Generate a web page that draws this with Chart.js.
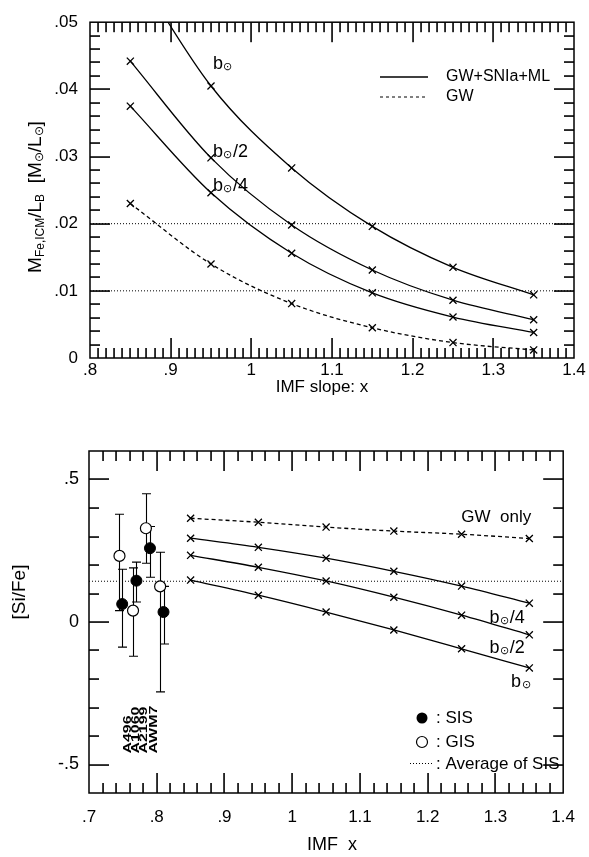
<!DOCTYPE html>
<html>
<head>
<meta charset="utf-8">
<script src="https://cdn.jsdelivr.net/npm/chart.js@4.4.1/dist/chart.umd.min.js"></script>
<style>
  html, body { margin: 0; padding: 0; background: #fff; }
  #wrap { position: relative; width: 589px; height: 857px; overflow: hidden; }
  canvas { position: absolute; left: 0; }
  #c1 { top: 0; }
  #c2 { top: 400px; }
</style>
</head>
<body>
<div id="wrap">
  <canvas id="c1" width="589" height="400"></canvas>
  <canvas id="c2" width="589" height="457"></canvas>
</div>
<script>
// ---------------- DATA ----------------
const imfX = [0.85, 0.95, 1.05, 1.15, 1.25, 1.35];
const feB1 = [0.059, 0.0405, 0.0283, 0.0196, 0.0135, 0.0094];
const feB2 = [0.0442, 0.0298, 0.0198, 0.0131, 0.0086, 0.0057];
const feB4 = [0.0375, 0.0246, 0.0156, 0.0097, 0.0061, 0.0038];
const feGW = [0.0230, 0.0140, 0.0081, 0.0045, 0.0023, 0.0012];
const feRefLines = [0.02, 0.01];
const topXTicks = [0.8, 0.9, 1.0, 1.1, 1.2, 1.3, 1.4];
const topYTicks = [0, 0.01, 0.02, 0.03, 0.04, 0.05];

const siGW = [0.364, 0.350, 0.333, 0.319, 0.308, 0.293];
const siB4 = [0.294, 0.262, 0.224, 0.178, 0.126, 0.066];
const siB2 = [0.234, 0.192, 0.144, 0.087, 0.024, -0.045];
const siB1 = [0.147, 0.094, 0.035, -0.028, -0.094, -0.161];
const clusters = ['A496', 'A1060', 'A2199', 'AWM7'];
const sisX  = [0.749, 0.770, 0.790, 0.810];
const sisY  = [0.063, 0.145, 0.259, 0.035];
const sisLo = [-0.088, 0.070, 0.157, -0.077];
const sisHi = [0.185, 0.210, 0.335, 0.125];
const gisX  = [0.745, 0.765, 0.784, 0.805];
const gisY  = [0.232, 0.040, 0.329, 0.125];
const gisLo = [0.040, -0.120, 0.206, -0.245];
const gisHi = [0.378, 0.190, 0.450, 0.245];
const sisAverage = 0.143;
const botXTicks = [0.7, 0.8, 0.9, 1.0, 1.1, 1.2, 1.3, 1.4];
const botYTicks = [-0.5, 0, 0.5];

// ---------------- HELPERS ----------------
const FONT = "'Liberation Sans', Arial, Helvetica, sans-serif";
Chart.defaults.font.family = FONT;
Chart.defaults.color = '#000';

function fmt(v) {
  const r = Number(v.toFixed(3));
  if (r === 0) return '0';
  return String(r).replace(/^0\./, '.').replace(/^-0\./, '-.');
}
const pts = (xs, ys) => xs.map((x, i) => ({ x: x, y: ys[i] }));

function curve(data, dashed) {
  return {
    data: data, showLine: true, borderColor: '#000', borderWidth: 1.3,
    borderDash: dashed ? [4, 3] : [], pointStyle: 'crossRot', pointRadius: 5,
    pointBorderWidth: 1.3, pointBorderColor: '#000', pointBackgroundColor: '#000',
    cubicInterpolationMode: 'monotone', fill: false
  };
}
function refLine(x0, x1, y) {
  return {
    data: [{ x: x0, y: y }, { x: x1, y: y }], showLine: true, borderColor: '#000',
    borderWidth: 1, borderDash: [1, 2], pointRadius: 0, fill: false
  };
}

function drawRich(ctx, parts, cx, cy, rot) {
  ctx.save();
  ctx.translate(cx, cy);
  if (rot) ctx.rotate(rot);
  let w = 0;
  parts.forEach(p => { ctx.font = (p.bold ? 'bold ' : '') + p.size + 'px ' + FONT; w += ctx.measureText(p.t).width; });
  let x = -w / 2;
  ctx.textBaseline = 'middle';
  ctx.textAlign = 'left';
  ctx.fillStyle = '#000';
  parts.forEach(p => {
    ctx.font = (p.bold ? 'bold ' : '') + p.size + 'px ' + FONT;
    ctx.fillText(p.t, x, p.dy || 0);
    x += ctx.measureText(p.t).width;
  });
  ctx.restore();
}
function bsun(ctx, suffix, x, y, size) {
  ctx.save();
  ctx.textBaseline = 'alphabetic';
  ctx.textAlign = 'left';
  ctx.fillStyle = '#000';
  ctx.font = size + 'px ' + FONT;
  ctx.fillText('b', x, y);
  let w = ctx.measureText('b').width;
  ctx.font = Math.round(size * 0.62) + 'px ' + FONT;
  ctx.fillText('⊙', x + w + 0.5, y + 1);
  w += ctx.measureText('⊙').width + 1;
  if (suffix) {
    ctx.font = size + 'px ' + FONT;
    ctx.fillText(suffix, x + w, y);
  }
  ctx.restore();
}

// Frame and inward tick marks, placed through the chart's scales
function frameTicks(chart, cfg) {
  const ctx = chart.ctx;
  const a = chart.chartArea;
  const xs = chart.scales.x, ys = chart.scales.y;
  ctx.save();
  ctx.setLineDash([]);
  ctx.globalCompositeOperation = 'source-over';
  ctx.fillStyle = '#000000';
  ctx.strokeStyle = '#000000';
  ctx.lineWidth = 1.5;
  ctx.strokeRect(a.left, a.top, a.right - a.left, a.bottom - a.top);
  const nx = Math.round((cfg.xMax - cfg.xMin) / cfg.xMinor);
  for (let i = 1; i < nx; i++) {
    const v = cfg.xMin + i * cfg.xMinor;
    const L = (i % cfg.xEvery) === 0 ? 20 : 10;
    const px = Math.round(xs.getPixelForValue(v));
    ctx.fillRect(px - 0.75, a.bottom - L, 1.6, L);
    ctx.fillRect(px - 0.75, a.top, 1.6, L);
  }
  const ny = Math.round((cfg.yMax - cfg.yMin) / cfg.yMinor);
  for (let i = 1; i < ny; i++) {
    const v = cfg.yMin + i * cfg.yMinor;
    const L = (i % cfg.yEvery) === cfg.yOff ? 20 : 10;
    const py = Math.round(ys.getPixelForValue(v));
    ctx.fillRect(a.left, py - 0.75, L, 1.6);
    ctx.fillRect(a.right - L, py - 0.75, L, 1.6);
  }
  ctx.restore();
}

function axisX(min, max, ticks, fontSize, pad, h) {
  return {
    type: 'linear', min: min, max: max, position: 'bottom',
    afterBuildTicks: s => { s.ticks = ticks.map(v => ({ value: v })); },
    afterFit: s => { s.height = h; },
    ticks: { callback: v => fmt(v), font: { size: fontSize }, color: '#000', padding: pad, maxRotation: 0, autoSkip: false },
    grid: { display: false, drawTicks: false }, border: { display: false }
  };
}
function axisY(min, max, ticks, fontSize, pad, w) {
  return {
    type: 'linear', min: min, max: max, position: 'left',
    afterBuildTicks: s => { s.ticks = ticks.map(v => ({ value: v })); },
    afterFit: s => { s.width = w; },
    ticks: { callback: v => fmt(v), font: { size: fontSize }, color: '#000', padding: pad, autoSkip: false },
    grid: { display: false, drawTicks: false }, border: { display: false }
  };
}

// ---------------- TOP CHART ----------------
const topPlugin = {
  id: 'topDecor',
  afterDraw(chart) {
    const { ctx, chartArea: a } = chart;
    const xs = chart.scales.x, ys = chart.scales.y;
    frameTicks(chart, { xMin: 0.8, xMax: 1.4, xMinor: 0.01, xEvery: 10, yMin: 0, yMax: 0.05, yMinor: 0.002, yEvery: 5, yOff: 0 });
    bsun(ctx, '', xs.getPixelForValue(0.9524), ys.getPixelForValue(0.0440) + 7, 18);
    bsun(ctx, '/2', xs.getPixelForValue(0.9524), ys.getPixelForValue(0.0310) + 7, 18);
    bsun(ctx, '/4', xs.getPixelForValue(0.9524), ys.getPixelForValue(0.0259) + 7, 18);
    ctx.save();
    ctx.strokeStyle = '#000';
    ctx.lineWidth = 1.4;
    ctx.beginPath(); ctx.moveTo(380, 77); ctx.lineTo(428, 77); ctx.stroke();
    ctx.lineWidth = 1; ctx.setLineDash([3, 3]);
    ctx.beginPath(); ctx.moveTo(380, 97); ctx.lineTo(428, 97); ctx.stroke();
    ctx.setLineDash([]);
    ctx.font = '16px ' + FONT; ctx.textBaseline = 'middle'; ctx.textAlign = 'left'; ctx.fillStyle = '#000';
    ctx.fillText('GW+SNIa+ML', 446, 77);
    ctx.fillText('GW', 446, 97);
    ctx.restore();
    drawRich(ctx, [{ t: 'IMF slope: x', size: 17 }], 322, a.bottom + 29, 0);
    drawRich(ctx, [
      { t: 'M', size: 19 }, { t: 'Fe,ICM', size: 12, dy: 5 }, { t: '/L', size: 19 }, { t: 'B', size: 12, dy: 5 },
      { t: '  [M', size: 19 }, { t: '⊙', size: 12, dy: 4 }, { t: '/L', size: 19 }, { t: '⊙', size: 12, dy: 4 }, { t: ']', size: 19 }
    ], 36, 197, -Math.PI / 2);
  }
};

new Chart(document.getElementById('c1'), {
  type: 'scatter',
  data: {
    datasets: [
      refLine(0.8, 1.4, feRefLines[0]),
      refLine(0.8, 1.4, feRefLines[1]),
      curve(pts(imfX, feB1), false),
      curve(pts(imfX, feB2), false),
      curve(pts(imfX, feB4), false),
      curve(pts(imfX, feGW), true)
    ]
  },
  options: {
    responsive: false, animation: false, devicePixelRatio: 1,
    layout: { padding: { top: 14, right: 15, left: 0, bottom: 0 } },
    plugins: { legend: { display: false }, tooltip: { enabled: false } },
    scales: {
      x: axisX(0.8, 1.4, topXTicks, 17, 2, 42),
      y: axisY(0, 0.05, topYTicks, 17, 12, 90)
    }
  },
  plugins: [topPlugin]
});

// ---------------- BOTTOM CHART ----------------
const errPlugin = {
  id: 'errBars',
  beforeDatasetsDraw(chart) {
    const { ctx } = chart;
    const xs = chart.scales.x, ys = chart.scales.y;
    ctx.save();
    ctx.strokeStyle = '#000';
    ctx.lineWidth = 1.1;
    ctx.beginPath();
    const bars = (X, LO, HI) => X.forEach((x, i) => {
      const px = Math.round(xs.getPixelForValue(x)) + 0.5;
      const p1 = ys.getPixelForValue(LO[i]), p2 = ys.getPixelForValue(HI[i]);
      ctx.moveTo(px, p1); ctx.lineTo(px, p2);
      ctx.moveTo(px - 4.5, p1); ctx.lineTo(px + 4.5, p1);
      ctx.moveTo(px - 4.5, p2); ctx.lineTo(px + 4.5, p2);
    });
    bars(gisX, gisLo, gisHi);
    bars(sisX, sisLo, sisHi);
    ctx.stroke();
    ctx.restore();
  },
  afterDraw(chart) {
    const { ctx, chartArea: a } = chart;
    const xs = chart.scales.x, ys = chart.scales.y;
    frameTicks(chart, { xMin: 0.7, xMax: 1.4, xMinor: 0.02, xEvery: 5, yMin: -0.6, yMax: 0.6, yMinor: 0.1, yEvery: 5, yOff: 1 });
    drawRich(ctx, [{ t: 'GW  only', size: 17 }], xs.getPixelForValue(1.2554) + 31, ys.getPixelForValue(0.367), 0);
    bsun(ctx, '/4', xs.getPixelForValue(1.2914), ys.getPixelForValue(0.021) + 7, 18);
    bsun(ctx, '/2', xs.getPixelForValue(1.2914), ys.getPixelForValue(-0.084) + 7, 18);
    bsun(ctx, '', xs.getPixelForValue(1.323), ys.getPixelForValue(-0.203) + 7, 18);
    const cx = [0.7568, 0.769, 0.7813, 0.7957];
    clusters.forEach((name, i) => {
      ctx.save();
      ctx.translate(xs.getPixelForValue(cx[i]), ys.getPixelForValue(-0.4615));
      ctx.rotate(-Math.PI / 2);
      ctx.scale(1.45, 1);
      ctx.font = 'bold 11px ' + FONT;
      ctx.textAlign = 'left'; ctx.textBaseline = 'middle'; ctx.fillStyle = '#000';
      ctx.fillText(name, 0, 0);
      ctx.restore();
    });
    ctx.save();
    ctx.fillStyle = '#000'; ctx.strokeStyle = '#000'; ctx.lineWidth = 1.2;
    ctx.beginPath(); ctx.arc(422, 318, 5.5, 0, Math.PI * 2); ctx.fill();
    ctx.beginPath(); ctx.arc(422, 342, 5.5, 0, Math.PI * 2); ctx.stroke();
    ctx.lineWidth = 1; ctx.setLineDash([1, 2]);
    ctx.beginPath(); ctx.moveTo(410, 363.5); ctx.lineTo(433, 363.5); ctx.stroke();
    ctx.setLineDash([]);
    ctx.font = '17px ' + FONT; ctx.textBaseline = 'middle'; ctx.textAlign = 'left';
    ctx.fillText(': SIS', 436, 318);
    ctx.fillText(': GIS', 436, 342);
    ctx.fillText(': Average of SIS', 436, 364);
    ctx.restore();
    drawRich(ctx, [{ t: 'IMF  x', size: 18 }], 332, a.bottom + 52, 0);
    drawRich(ctx, [{ t: '[Si/Fe]', size: 19 }], 20, 192, -Math.PI / 2);
  }
};

new Chart(document.getElementById('c2'), {
  type: 'scatter',
  data: {
    datasets: [
      refLine(0.7, 1.4, sisAverage),
      curve(pts(imfX, siGW), true),
      curve(pts(imfX, siB4), false),
      curve(pts(imfX, siB2), false),
      curve(pts(imfX, siB1), false),
      { data: pts(sisX, sisY), pointStyle: 'circle', pointRadius: 5.5, pointBackgroundColor: '#000', pointBorderColor: '#000', pointBorderWidth: 1, showLine: false },
      { data: pts(gisX, gisY), pointStyle: 'circle', pointRadius: 5.5, pointBackgroundColor: '#fff', pointBorderColor: '#000', pointBorderWidth: 1.2, showLine: false }
    ]
  },
  options: {
    responsive: false, animation: false, devicePixelRatio: 1,
    layout: { padding: { top: 51, right: 14, left: 0, bottom: 0 } },
    plugins: { legend: { display: false }, tooltip: { enabled: false } },
    scales: {
      x: axisX(0.7, 1.4, botXTicks, 17, 14, 64),
      y: axisY(-0.6, 0.6, botYTicks, 18, 10, 89)
    }
  },
  plugins: [errPlugin]
});
</script>
</body>
</html>
